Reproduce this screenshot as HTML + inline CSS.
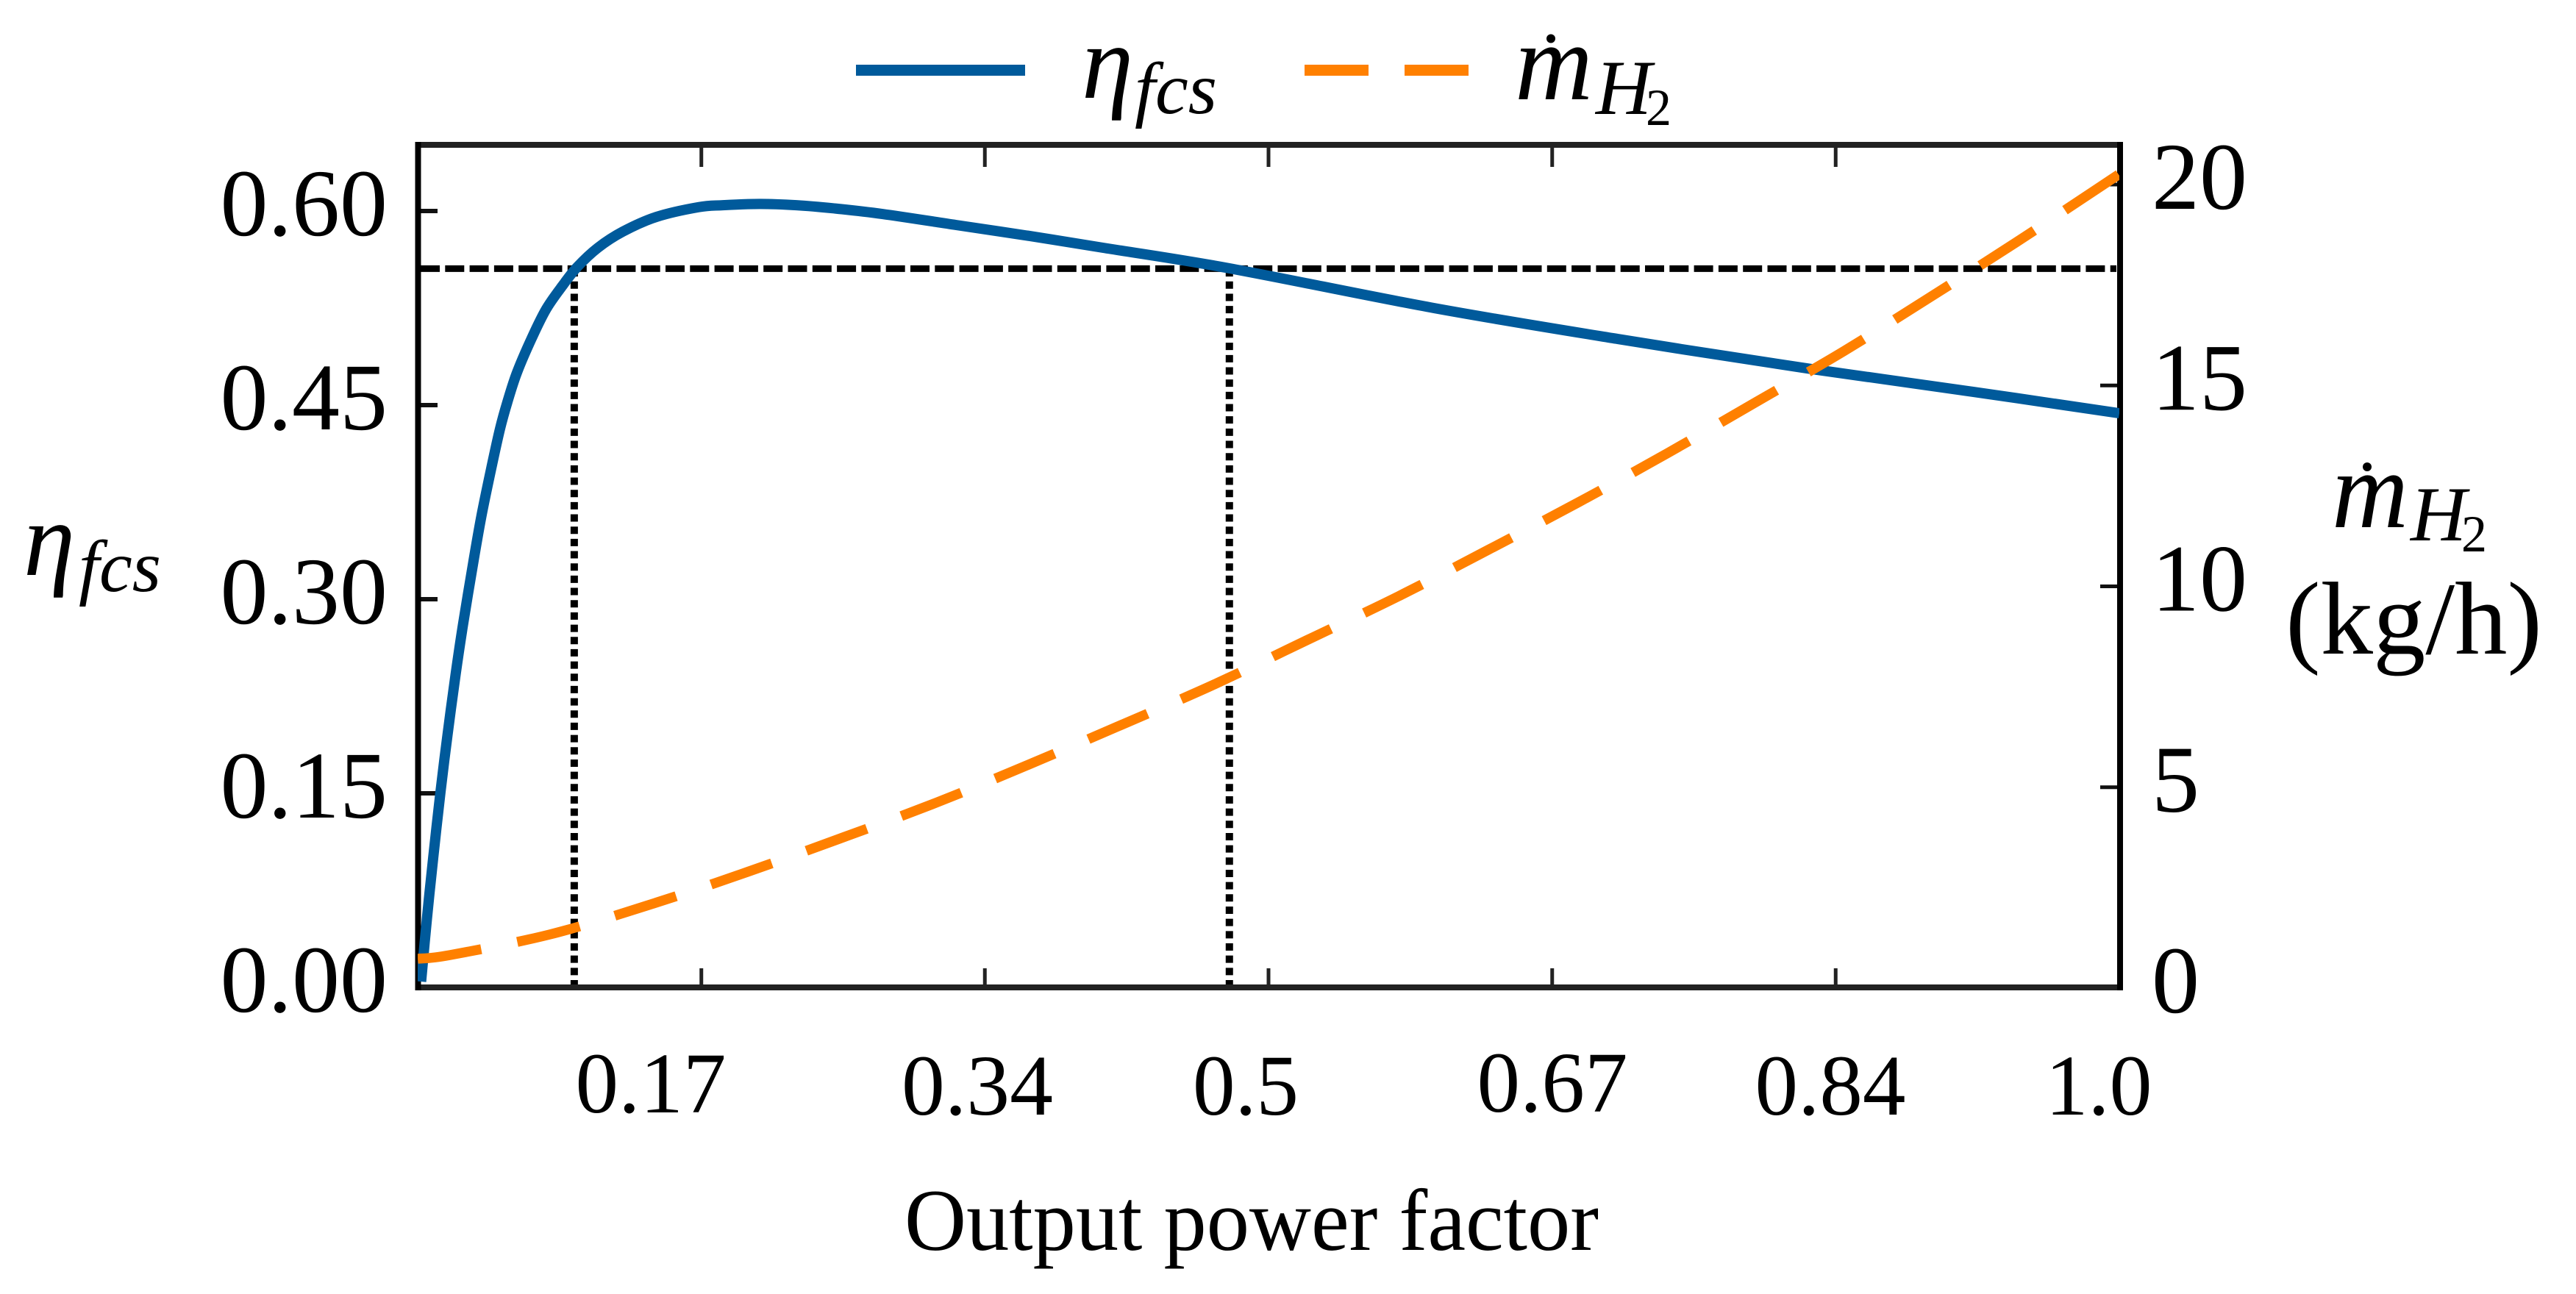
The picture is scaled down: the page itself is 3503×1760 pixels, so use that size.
<!DOCTYPE html>
<html lang="en">
<head>
<meta charset="utf-8">
<title>Fuel cell efficiency and hydrogen flow versus output power factor</title>
<style>
html,body{margin:0;padding:0;background:#fff;width:3503px;height:1760px;overflow:hidden}
svg{display:block}
text{font-family:"Liberation Serif","DejaVu Serif",serif;fill:#000}
.it{font-style:italic}
</style>
</head>
<body>
<svg id="chart" xmlns="http://www.w3.org/2000/svg" width="3503" height="1760" viewBox="0 0 3503 1760">
  <defs>
    <clipPath id="plot-clip"><rect x="568" y="190" width="2314" height="1160"/></clipPath>
  </defs>
  <rect x="0" y="0" width="3503" height="1760" fill="#fff"/>

  <g id="ticks"></g>
  <g id="guides"></g>
  <g id="frame">
    <line x1="565" x2="2887" y1="197" y2="197" stroke="#222" stroke-width="8"/>
    <line x1="565" x2="2887" y1="1343" y2="1343" stroke="#222" stroke-width="8"/>
    <line x1="568.5" x2="568.5" y1="193" y2="1347" stroke="#000" stroke-width="8"/>
    <line x1="2883" x2="2883" y1="193" y2="1347" stroke="#000" stroke-width="8"/>
  </g>
  <g id="series" clip-path="url(#plot-clip)"></g>
  <g id="y-left-labels"></g>
  <g id="y-right-labels"></g>

  <g font-size="118" text-anchor="middle">
    <text x="885" y="1513" textLength="205" lengthAdjust="spacingAndGlyphs">0.17</text>
    <text x="1329" y="1516" textLength="206" lengthAdjust="spacingAndGlyphs">0.34</text>
    <text x="1694" y="1516" textLength="144" lengthAdjust="spacingAndGlyphs">0.5</text>
    <text x="2111" y="1512" textLength="205" lengthAdjust="spacingAndGlyphs">0.67</text>
    <text x="2489" y="1516" textLength="205" lengthAdjust="spacingAndGlyphs">0.84</text>
    <text x="2854" y="1516" textLength="145" lengthAdjust="spacingAndGlyphs">1.0</text>
  </g>

  <text x="1230" y="1700" font-size="120" textLength="944" lengthAdjust="spacingAndGlyphs">Output power factor</text>

  <g>
    <text class="it" x="32" y="782" font-size="144" textLength="70" lengthAdjust="spacingAndGlyphs">η</text>
    <text class="it" x="107" y="804" font-size="100" textLength="112" lengthAdjust="spacingAndGlyphs">fcs</text>
  </g>

  <g>
    <text class="it" x="3171" y="717" font-size="150" textLength="104" lengthAdjust="spacingAndGlyphs">m</text>
    <ellipse cx="3219" cy="635" rx="6" ry="6" fill="#000"/>
    <text class="it" x="3278" y="735" font-size="106" textLength="76" lengthAdjust="spacingAndGlyphs">H</text>
    <text x="3347" y="750" font-size="71" textLength="35" lengthAdjust="spacingAndGlyphs">2</text>
    <text x="3108" y="889" font-size="141" textLength="349" lengthAdjust="spacingAndGlyphs">(kg/h)</text>
  </g>

  <g>
    <line x1="1164" x2="1394" y1="95.5" y2="95.5" stroke="#005a9b" stroke-width="15"/>
    <text class="it" x="1471" y="133" font-size="144" textLength="70" lengthAdjust="spacingAndGlyphs">η</text>
    <text class="it" x="1543" y="154" font-size="100" textLength="112" lengthAdjust="spacingAndGlyphs">fcs</text>
    <line x1="1774" x2="1861" y1="95.5" y2="95.5" stroke="#ff8000" stroke-width="15"/>
    <line x1="1910" x2="1997" y1="95.5" y2="95.5" stroke="#ff8000" stroke-width="15"/>
    <text class="it" x="2060" y="135" font-size="150" textLength="106" lengthAdjust="spacingAndGlyphs">m</text>
    <ellipse cx="2109" cy="52.5" rx="6" ry="6" fill="#000"/>
    <text class="it" x="2170" y="155" font-size="106" textLength="76" lengthAdjust="spacingAndGlyphs">H</text>
    <text x="2238" y="170" font-size="71" textLength="35" lengthAdjust="spacingAndGlyphs">2</text>
  </g>
</svg>

<script>
const xTicks = [0.1667, 0.3333, 0.5, 0.6667, 0.8333];
const yLeftTicks = [0, 0.15, 0.30, 0.45, 0.60];
const yRightTicks = [0, 5, 10, 15, 20];
const efficiencyX = [0.002, 0.0054, 0.0091, 0.0134, 0.0175, 0.0223, 0.0266, 0.0328, 0.0376, 0.0436, 0.0484, 0.0527, 0.0583, 0.067, 0.0756, 0.0856, 0.0938, 0.1059, 0.1206, 0.1404, 0.1651, 0.1793, 0.2009, 0.2226, 0.2442, 0.2731, 0.3163, 0.3596, 0.4028, 0.4771, 0.5972, 0.7053, 0.8133, 0.9144, 1.0];
const efficiencyY = [0.0045, 0.0528, 0.1, 0.1511, 0.1949, 0.242, 0.2801, 0.3295, 0.3653, 0.4034, 0.4318, 0.4523, 0.475, 0.5017, 0.5244, 0.5432, 0.5568, 0.5716, 0.5841, 0.5955, 0.603, 0.6045, 0.6055, 0.6045, 0.6021, 0.5977, 0.5892, 0.5807, 0.5716, 0.5557, 0.525, 0.5011, 0.479, 0.4602, 0.4437];
const hydrogenX = [0, 0.019, 0.0776, 0.1344, 0.1912, 0.2476, 0.3034, 0.3585, 0.414, 0.4683, 0.5223, 0.5764, 0.6292, 0.6823, 0.7345, 0.7864, 0.8382, 0.8889, 0.9393, 1.0];
const hydrogenY = [0.732, 0.823, 1.336, 2.05, 2.854, 3.715, 4.593, 5.554, 6.56, 7.563, 8.655, 9.753, 10.91, 12.095, 13.315, 14.584, 15.855, 17.2, 18.56, 20.26];
const thresholdEfficiency = [0.5555];
const thresholdPower = [0.092, 0.477];

const SVG_NS = 'http://www.w3.org/2000/svg';
const xScale = v => 568 + 2314 * v;
const yLeft = v => 1343 - 1760 * v;
const yRight = v => 1344 - 54.65 * v;

function make(tag, attrs, parent) {
  const el = document.createElementNS(SVG_NS, tag);
  for (const k in attrs) el.setAttribute(k, attrs[k]);
  parent.appendChild(el);
  return el;
}

function smoothPath(pts) {
  let d = 'M' + pts[0][0].toFixed(2) + ' ' + pts[0][1].toFixed(2);
  for (let i = 0; i < pts.length - 1; i++) {
    const p0 = pts[Math.max(i - 1, 0)];
    const p1 = pts[i];
    const p2 = pts[i + 1];
    const p3 = pts[Math.min(i + 2, pts.length - 1)];
    const c1x = p1[0] + (p2[0] - p0[0]) / 6;
    const c1y = p1[1] + (p2[1] - p0[1]) / 6;
    const c2x = p2[0] - (p3[0] - p1[0]) / 6;
    const c2y = p2[1] - (p3[1] - p1[1]) / 6;
    d += ' C' + c1x.toFixed(2) + ' ' + c1y.toFixed(2) + ' ' + c2x.toFixed(2) + ' ' + c2y.toFixed(2) + ' ' + p2[0].toFixed(2) + ' ' + p2[1].toFixed(2);
  }
  return d;
}

const ticksG = document.getElementById('ticks');
const guidesG = document.getElementById('guides');
const seriesG = document.getElementById('series');
const leftLabelsG = document.getElementById('y-left-labels');
const rightLabelsG = document.getElementById('y-right-labels');

xTicks.forEach(v => {
  const bottom = make('line', {x1: xScale(v), x2: xScale(v), y1: 1317, y2: 1343, stroke: '#222', 'stroke-width': 5}, ticksG);
  
  
  const top = make('line', {x1: xScale(v), x2: xScale(v), y1: 197, y2: 227, stroke: '#222', 'stroke-width': 5}, ticksG);
  
  
});

yLeftTicks.forEach(v => {
  const tick = make('line', {x1: 568, x2: 595, y1: yLeft(v), y2: yLeft(v), stroke: '#111', 'stroke-width': 6}, ticksG);
  
  
  const label = make('text', {x: 527, y: yLeft(v) + 33, 'font-size': 130, 'text-anchor': 'end'}, leftLabelsG);
  label.textContent = v.toFixed(2);
  
  
});

yRightTicks.forEach(v => {
  const tick = make('line', {x1: 2856, x2: 2883, y1: yRight(v), y2: yRight(v), stroke: '#111', 'stroke-width': 5}, ticksG);
  
  
  const label = make('text', {x: 2926, y: yRight(v) + 33, 'font-size': 130, 'text-anchor': 'start'}, rightLabelsG);
  label.textContent = String(v);
  
  
});

const hLine = make('line', {x1: 572, x2: 2878, y1: yLeft(thresholdEfficiency[0]), y2: yLeft(thresholdEfficiency[0]), stroke: '#000', 'stroke-width': 9, 'stroke-dasharray': '26 7.3'}, guidesG);



thresholdPower.forEach(v => {
  const vLine = make('line', {x1: xScale(v), x2: xScale(v), y1: yLeft(0), y2: yLeft(thresholdEfficiency[0]), stroke: '#000', 'stroke-width': 10, 'stroke-dasharray': '10 6.67'}, guidesG);
  
  
});

const efficiencyPts = efficiencyX.map((x, i) => [xScale(x), yLeft(efficiencyY[i])]);
const efficiencyLine = make('path', {d: smoothPath(efficiencyPts), fill: 'none', stroke: '#005a9b', 'stroke-width': 14}, seriesG);



const hydrogenPts = hydrogenX.map((x, i) => [xScale(x), yRight(hydrogenY[i])]);
const hydrogenLine = make('path', {d: smoothPath(hydrogenPts), fill: 'none', stroke: '#ff8000', 'stroke-width': 13.5, 'stroke-dasharray': '87.5 50'}, seriesG);


</script>
</body>
</html>
